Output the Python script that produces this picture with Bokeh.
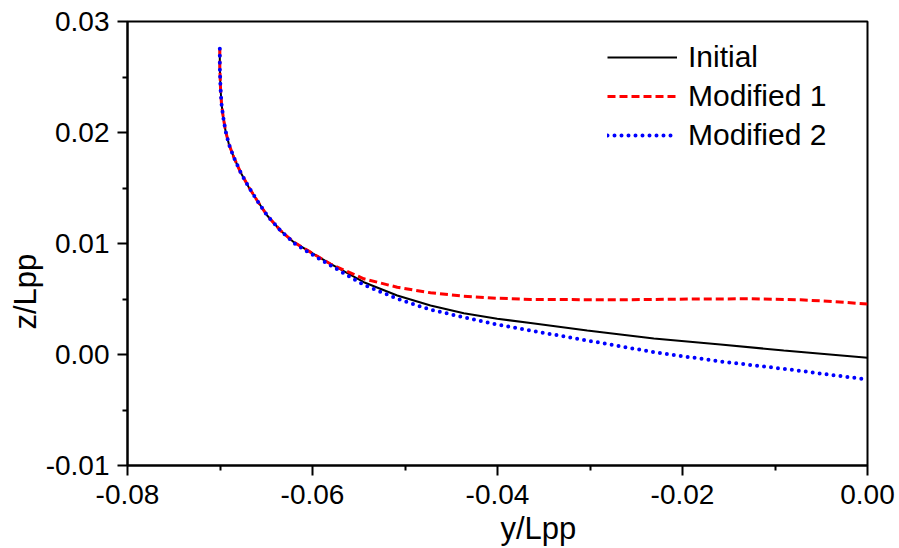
from bokeh.plotting import figure
from bokeh.models import Range1d, FixedTicker, NumeralTickFormatter, Legend, LegendItem, Title
from bokeh.embed import file_html
from bokeh.resources import INLINE

# ---- data ----
upper_y = [-0.07002, -0.07002, -0.06995, -0.06984, -0.06965, -0.06941, -0.06905, -0.06851,
           -0.06778, -0.06689, -0.06598, -0.06490, -0.06346]
upper_z = [0.02754, 0.02588, 0.02408, 0.02259, 0.02138, 0.02018, 0.01898, 0.01777,
           0.01642, 0.01507, 0.01387, 0.01252, 0.01117]

initial_y = upper_y + [-0.06202, -0.06022, -0.05805, -0.05445, -0.05084, -0.04724, -0.04364,
                       -0.04003, -0.03643, -0.03030, -0.02310, -0.01589, -0.00905, 0.0]
initial_z = upper_z + [0.01012, 0.00922, 0.00817, 0.00651, 0.00532, 0.00441, 0.00372,
                       0.00322, 0.00284, 0.00216, 0.00144, 0.00090, 0.00036, -0.00030]

mod1_y = upper_y + [-0.06202, -0.06022, -0.05805, -0.05445, -0.05084, -0.04724, -0.04364,
                    -0.04003, -0.03643, -0.02670, -0.01805, -0.01265, -0.00724, -0.00368, 0.0]
mod1_z = upper_z + [0.01012, 0.00922, 0.00815, 0.00682, 0.00606, 0.00556, 0.00525,
                    0.00507, 0.00496, 0.00493, 0.00500, 0.00502, 0.00493, 0.00477, 0.00455]

mod2_y = upper_y + [-0.06202, -0.06022, -0.05805, -0.05445, -0.05084, -0.04724, -0.04364,
                    -0.04003, -0.03643, -0.03030, -0.02310, -0.01589, -0.00905, 0.0]
mod2_z = upper_z + [0.01005, 0.00910, 0.00802, 0.00628, 0.00502, 0.00403, 0.00336,
                    0.00270, 0.00216, 0.00126, 0.00021, -0.00063, -0.00129, -0.00225]

series_names = ["Initial", "Modified 1", "Modified 2"]
x_ticks = [-0.08, -0.06, -0.04, -0.02, 0.0]
x_minor = [-0.07, -0.05, -0.03, -0.01]
y_ticks = [-0.01, 0.0, 0.01, 0.02, 0.03]
y_minor = [-0.005, 0.005, 0.015, 0.025]
x_label = "y/Lpp"
y_label = "z/Lpp"

FONT = "Liberation Sans"

p = figure(frame_width=740, frame_height=444, x_range=Range1d(-0.08, 0.0), y_range=Range1d(-0.01, 0.03),
           output_backend="svg", toolbar_location=None,
           min_border_left=127, min_border_right=32, min_border_top=21, min_border_bottom=83)
p.background_fill_color = "white"
p.border_fill_color = "white"
p.xgrid.grid_line_color = None
p.ygrid.grid_line_color = None
p.outline_line_color = "black"
p.outline_line_width = 2
p.outline_line_alpha = 1.0

for ax, ticks, minors in ((p.xaxis[0], x_ticks, x_minor), (p.yaxis[0], y_ticks, y_minor)):
    ax.ticker = FixedTicker(ticks=ticks, minor_ticks=minors)
    ax.formatter = NumeralTickFormatter(format="0.00")
    ax.axis_line_width = 2
    ax.axis_line_color = "black"
    ax.major_tick_line_width = 2
    ax.minor_tick_line_width = 2
    ax.major_tick_line_color = "black"
    ax.minor_tick_line_color = "black"
    ax.major_tick_in = 0
    ax.major_tick_out = 10
    ax.minor_tick_in = 0
    ax.minor_tick_out = 5
    ax.major_label_text_font = FONT
    ax.major_label_text_font_size = "28px"
    ax.major_label_text_color = "black"
p.xaxis[0].major_label_standoff = 9
p.yaxis[0].major_label_standoff = 8

r0 = p.line(initial_y, initial_z, line_color="black", line_width=2)
r1 = p.line(mod1_y, mod1_z, line_color="#ff0000", line_width=3, line_dash="8 4")
r2 = p.line(mod2_y, mod2_z, line_color="#0000ff", line_width=4, line_dash="0 7", line_cap="round")

legend = Legend(items=[LegendItem(label=series_names[0], renderers=[r0]),
                       LegendItem(label=series_names[1], renderers=[r1]),
                       LegendItem(label=series_names[2], renderers=[r2])],
                location=(480, 313), padding=0, margin=0, spacing=5,
                glyph_width=70, glyph_height=30, label_height=30, label_standoff=11,
                label_text_font=FONT, label_text_font_size="30px", label_text_color="black",
                border_line_color=None, background_fill_alpha=0.0)
p.add_layout(legend)

xt = Title(text=x_label, align="left", offset=373, text_font=FONT, text_font_size="31px",
           text_font_style="normal", text_color="black", standoff=4)
p.add_layout(xt, "below")
yt = Title(text=y_label, align="left", offset=136, text_font=FONT, text_font_size="31px",
           text_font_style="normal", text_color="black", standoff=0)
p.add_layout(yt, "left")

open("out.html", "w").write(file_html(p, INLINE))
